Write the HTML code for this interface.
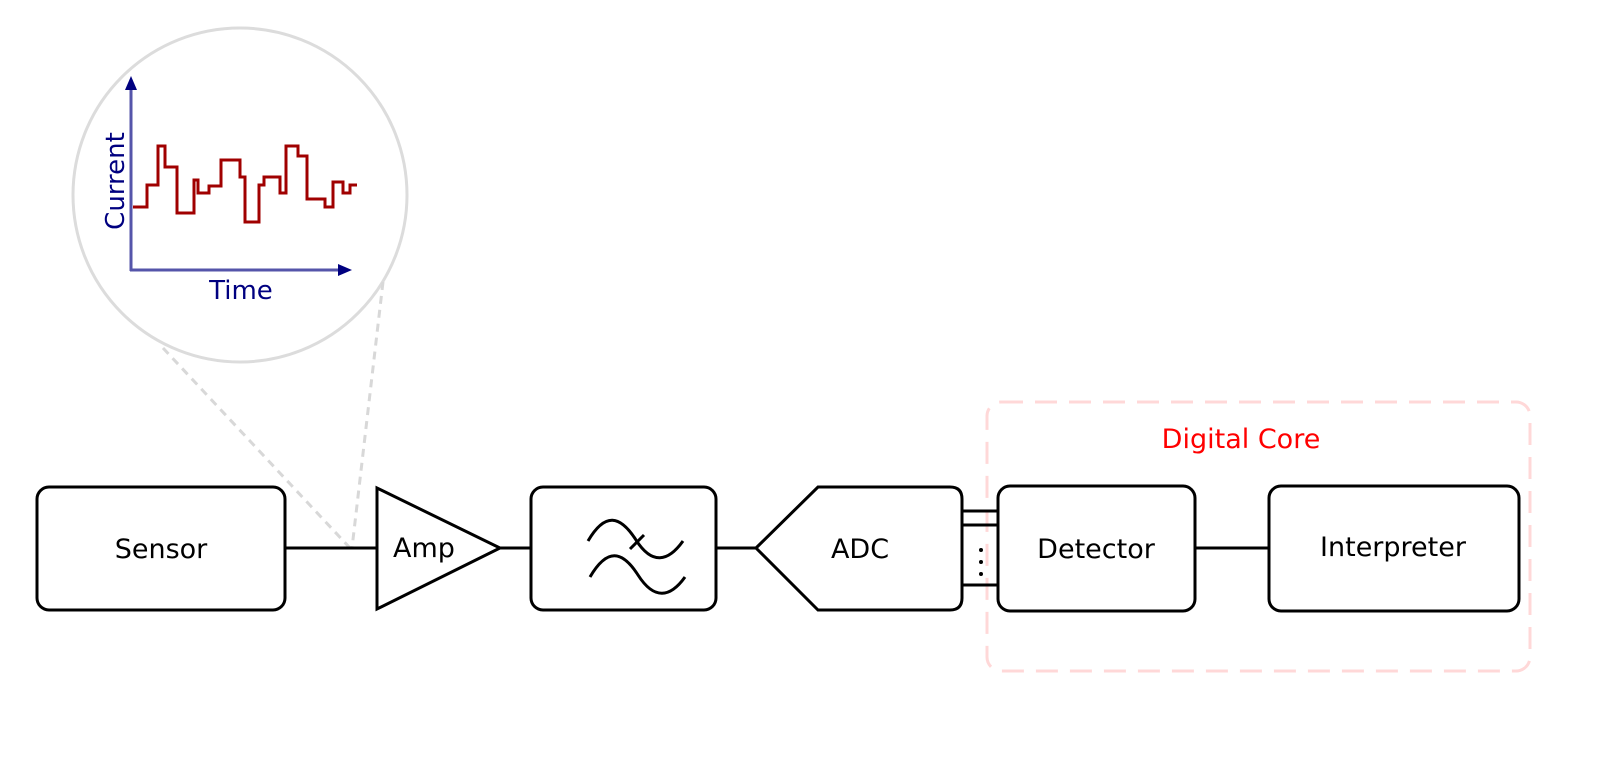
<!DOCTYPE html>
<html><head><meta charset="utf-8"><style>html,body{margin:0;padding:0;background:#fff}svg{display:block}</style></head>
<body>
<svg width="1600" height="760" viewBox="0 0 1600 760" xmlns="http://www.w3.org/2000/svg" font-family="'DejaVu Sans', 'Liberation Sans', sans-serif">
<rect width="1600" height="760" fill="#fff"/>
<circle cx="240" cy="195" r="167" fill="none" stroke="#dcdcdc" stroke-width="3"/>
<line x1="163" y1="348" x2="350" y2="548" stroke="#d8d8d8" stroke-width="3" stroke-dasharray="8,6"/>
<line x1="383" y1="282" x2="352" y2="548" stroke="#d8d8d8" stroke-width="3" stroke-dasharray="8,6"/>
<line x1="131" y1="88" x2="131" y2="271" stroke="#5555aa" stroke-width="3"/>
<polygon points="131,76 125,90 137,90" fill="#000080"/>
<line x1="130" y1="270" x2="340" y2="270" stroke="#5555aa" stroke-width="3"/>
<polygon points="352,270 338,264 338,276" fill="#000080"/>
<text x="241" y="299" font-size="26" fill="#000080" text-anchor="middle">Time</text>
<text transform="translate(124,181) rotate(-90)" font-size="26" fill="#000080" text-anchor="middle">Current</text>
<polyline fill="none" stroke="#a00000" stroke-width="3" points="133,207 147,207 147,185 158,185 158,146 165,146 165,167 177,167 177,213 194,213 194,180 198,180 198,193 209,193 209,186 221,186 221,160 240,160 240,177 245,177 245,222 259,222 259,185 264,185 264,177 280,177 280,193 286,193 286,146 298,146 298,156 307,156 307,199 325,199 325,207 333,207 333,182 343,182 343,193 350,193 350,185 357,185"/>
<rect x="987" y="402" width="543" height="269" rx="14" fill="none" stroke="#ffd8d8" stroke-width="3" stroke-dasharray="22,12"/>
<text x="1241" y="448" font-size="27" fill="#ff0000" text-anchor="middle">Digital Core</text>
<g stroke="#000" stroke-width="3" fill="#fff">
<line x1="285" y1="548" x2="377" y2="548"/>
<line x1="500" y1="548" x2="531" y2="548"/>
<line x1="716" y1="548" x2="756" y2="548"/>
<line x1="1195" y1="548" x2="1269" y2="548"/>
<line x1="962" y1="511" x2="998" y2="511"/>
<line x1="962" y1="525" x2="998" y2="525"/>
<line x1="962" y1="585" x2="998" y2="585"/>
<rect x="37" y="487" width="248" height="123" rx="12"/>
<polygon points="377,488 377,609 500,548"/>
<rect x="531" y="487" width="185" height="123" rx="12"/>
<path d="M756,548 L818,487 L950,487 Q962,487 962,499 L962,598 Q962,610 950,610 L818,610 Z"/>
<rect x="998" y="486" width="197" height="125" rx="12"/>
<rect x="1269" y="486" width="250" height="125" rx="12"/>
<path d="M588,541 C605,512 620,515 636,540 C652,565 668,562 683,541" fill="none"/>
<path d="M590,577 C607,548 622,550 638,575 C654,600 670,598 685,577" fill="none"/>
<line x1="630" y1="549" x2="644" y2="535" fill="none"/>
</g>
<g fill="#000"><circle cx="981" cy="550" r="2"/><circle cx="981" cy="562" r="2"/><circle cx="981" cy="574" r="2"/></g>
<g font-size="27" fill="#000" text-anchor="middle">
<text x="161" y="558">Sensor</text>
<text x="424" y="557">Amp</text>
<text x="860" y="558">ADC</text>
<text x="1096" y="558">Detector</text>
<text x="1393" y="556">Interpreter</text>
</g>
</svg>
</body></html>
